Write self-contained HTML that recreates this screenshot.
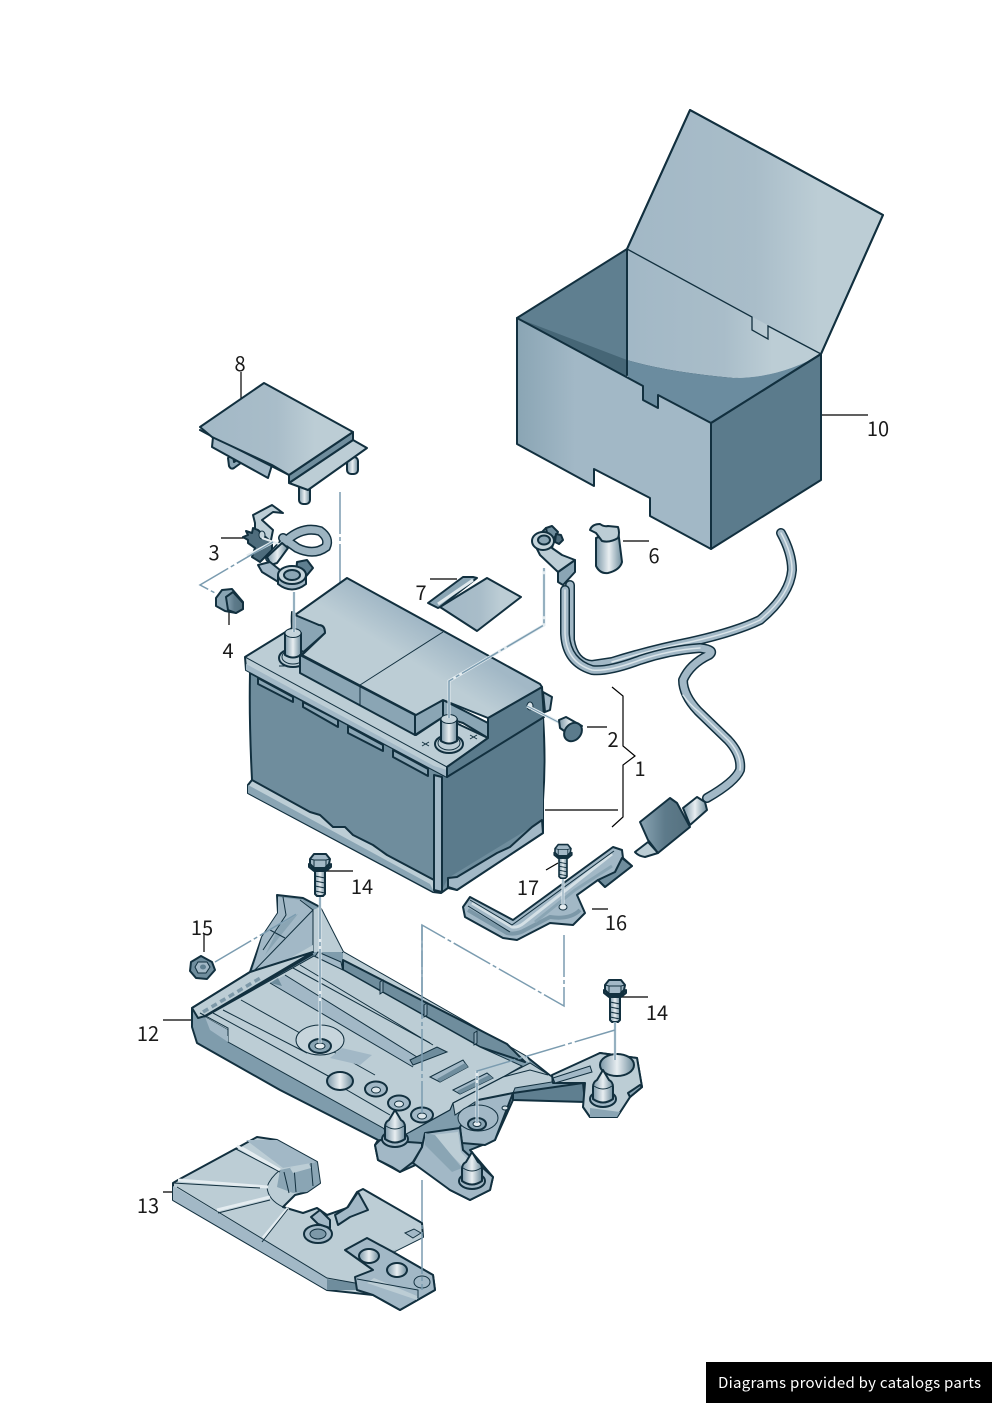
<!DOCTYPE html>
<html><head><meta charset="utf-8"><title>Diagram</title>
<style>
html,body{margin:0;padding:0;background:#fff}
svg{display:block}
text{font-family:"Noto Sans CJK JP","Liberation Sans",sans-serif;font-size:20px;fill:#1a1a1a;text-anchor:middle}
.o{stroke:#12303f;stroke-width:2;stroke-linejoin:round;stroke-linecap:round}
.t{stroke:#12303f;stroke-width:1;fill:none}
.l{stroke:#000;stroke-width:1.2;fill:none}
.d{stroke:#7b9cb0;stroke-width:1.5;fill:none;stroke-dasharray:42 3 4 3}
.h{stroke:#e4ecf0;stroke-width:3;fill:none}
.a{fill:#bccdd5}.b{fill:#a2b8c6}.c{fill:#6f8d9d}.e{fill:#5b7b8c}.f{fill:#8aa5b4}
</style></head><body>
<svg width="992" height="1403" viewBox="0 0 992 1403" xmlns="http://www.w3.org/2000/svg">
<defs>
<linearGradient id="g1" x1="0" x2="1" y1="0" y2="0"><stop offset="0" stop-color="#8aa5b4"/><stop offset=".3" stop-color="#a2b8c6"/><stop offset="1" stop-color="#a2b8c6"/></linearGradient>
<linearGradient id="g2" x1="0" x2="1" y1="0" y2="0"><stop offset="0" stop-color="#a2b8c6"/><stop offset=".5" stop-color="#a9bdc9"/><stop offset=".75" stop-color="#bccdd5"/><stop offset="1" stop-color="#bccdd5"/></linearGradient>
<linearGradient id="g3" x1="0" x2="1" y1="0" y2="0"><stop offset="0" stop-color="#7c98a8"/><stop offset=".5" stop-color="#e8eef1"/><stop offset="1" stop-color="#6f8d9d"/></linearGradient>
<linearGradient id="g4" x1="0" x2="1" y1="0" y2="0"><stop offset="0" stop-color="#8aa5b4"/><stop offset=".5" stop-color="#5d7a8a"/><stop offset="1" stop-color="#55717f"/></linearGradient>
<linearGradient id="g5" gradientUnits="userSpaceOnUse" x1="425" y1="625" x2="385" y2="690"><stop offset="0" stop-color="#a2b8c6"/><stop offset=".5" stop-color="#bccdd5"/><stop offset="1" stop-color="#bccdd5"/></linearGradient>
<g id="bolt"><path class="o" d="M-5 8h10v24l-2 2h-6l-2-2z" fill="url(#g3)"/><path class="t" d="M-5 14l10 2M-5 19l10 2M-5 24l10 2M-5 29l10 2"/><path class="o" d="M-11 2v3l5 4h12l5-4v-3l-5 5h-12z" fill="#6f8d9d"/><path class="o" d="M-10 -3l4-5h12l4 5-1 5-4 4h-11l-4-4z" fill="#a2b8c6"/><path class="t" d="M-6 -2h12M-6 -2l-4-1M6 -2l4-1M-6 -2v7M6 -2v7"/></g>
<g id="post"><ellipse class="o" cx="0" cy="15" rx="14" ry="9" fill="#bccdd5"/><ellipse class="t" cx="0" cy="14" rx="11" ry="7"/><path class="o" d="M-8 -10v22q8 5 16 0v-22z" fill="url(#g3)"/><ellipse cx="0" cy="-10" rx="8" ry="4.500" fill="#c5d4db" stroke="#12303f"/></g>
<g id="peg"><ellipse class="o" cx="0" cy="9" rx="13" ry="8" fill="#a2b8c6"/><path class="o" d="M-10 9v-12q0-5 4-7l6-10 6 10q4 2 4 7v12q-10 7-20 0z" fill="url(#g3)"/><path class="t" d="M-9 -4q9 6 18 0"/></g>
<g id="hole"><ellipse class="o" cx="0" cy="0" rx="11" ry="7.500" fill="#a2b8c6"/><ellipse cx="0" cy="1" rx="4.500" ry="3" fill="#dbe5ea" stroke="#12303f"/></g>
</defs>

<!-- 10 box -->
<path class="o" fill="url(#g2)" d="M627 249L690 110 883 215 821 354 733 378Q667 372 627 360z"/>
<path d="M627 249L821 354Q780 378 733 378 667 372 627 360z" fill="url(#g2)"/>
<path fill="#5f7f90" d="M517 318L627 249V375z"/>
<path fill="#466676" d="M517 318L627 360V377z"/>
<path fill="#6b8c9f" d="M627 360Q667 372 733 378 780 378 821 354L711 423 660 412 643 403 627 375z"/>
<path class="o" fill="url(#g1)" d="M517 318L643 386V400L658 408V395L711 423V549L650 516V498L594 469V486L517 444z"/>
<path class="o e" d="M711 423L821 354V480L711 549z"/>
<path class="o" fill="none" d="M517 318L627 249V375M627 249L690 110 883 215 821 354 711 423"/>
<path class="t" style="stroke-width:1.300" d="M627 249L752 317V330L768 339V326L821 354"/>

<!-- leaders -->
<path class="l" d="M822 415H868M241 372V398M221 538H248M623 541H649M430 579H457M587 727H607M229 612V625"/>
<path class="l" d="M612 687L623 696V746L635 756 623 765V817L612 827M545 810H618"/>
<path class="l" d="M325 871H353M546 870L558 863M592 909H608M204 933V952M620 997H648M163 1020H192M163 1192H174"/>

<!-- 8 cover -->
<path class="o f" d="M228 458l1 8q2 4 5 2l11-8-4-3-7 5-1-8z"/>
<rect class="o" x="299" y="483" width="11" height="21" rx="4" fill="url(#g3)"/>
<rect class="o" x="347" y="457" width="11" height="17" rx="4" fill="url(#g3)"/>
<path class="o a" d="M289 483L353 440 367 448 308 490z"/>
<path class="o b" d="M200 430L213 437 212 447 268 478 272 465 289 475z"/>
<path class="o c" d="M289 475L353 432V440L289 483z"/>
<path class="o" fill="url(#g2)" d="M200 427L264 383 353 432 289 475 272 465 212 437z"/>

<!-- dash to battery -->
<path class="d" d="M340 492V605"/>

<!-- 7 -->
<path class="o" fill="url(#g2)" d="M440 607L487 578 521 597 477 631z"/>
<path class="o f" d="M428 603L463 577 473 577 477 578 440 607 438 608z"/>
<path d="M438 604L473 580" stroke="#dfe8ec" stroke-width="3"/>

<!-- 6 -->
<path class="o" fill="url(#g3)" d="M596 538V566q4 8 12 7 12-3 14-11L618 530z"/>
<path class="o a" d="M590 530q2-6 10-6 4 3 8 2l10 1q2 6 0 11-8 5-16 3l-6-8z"/>

<!-- battery -->
<path class="o c" d="M250 673Q249 720 252 780L248 785V793L433 892 441 893 448 888 457 890 543 833V800Q546 760 543 717L447 777z"/>
<path class="e" d="M443 777L543 715V820L448 878 443 888z"/>
<path class="o a" d="M252 780L310 812 320 815 333 827 345 827 353 835 373 845 387 855 434 880V892L248 793V785z"/>
<path class="f" d="M248 785L430 884 434 892 248 793z"/>
<path class="o b" d="M434 775L442 777V892L434 890z"/>
<path class="o b" d="M448 878L457 877 497 853 510 847 532 827 542 820 543 833 457 890 448 887z"/>
<path class="o f" d="M258 678L293 697V702L258 684zM303 702L338 720V727L303 707zM348 726L383 745V751L348 733zM393 750L428 769V776L393 757z"/>
<path class="o a" d="M245 657L292 628 320 640 416 735 443 717 488 738 447 767 447 777 246 670z"/>
<path class="b" d="M246 664L434 766 447 770V777L246 670z"/>
<path class="t" d="M245 657L447 767"/>
<path class="o b" d="M543 692L552 697 550 710 545 712z"/>
<path class="o f" d="M292 612Q290 640 300 655L325 633Q325 625 319 625z"/>
<use href="#post" x="293" y="643"/>
<path class="t" d="M279 666h8"/>
<path class="o f" d="M300 655V673L415 735V715z"/>
<path class="t" d="M360 685V705"/>
<path class="o f" d="M415 735V715L443 700V717z"/>
<path class="o f" d="M443 700L488 723V738L463 723 443 717z"/>
<path class="o e" d="M488 718L542 687 544 717 447 777 447 767 488 738z"/>
<path class="o" fill="url(#g5)" d="M295 615L347 578 540 684 542 687 488 718 443 700 416 715 302 655 325 633Q325 625 319 625z"/>
<path class="t" d="M360 685L443 632"/>
<use href="#post" x="449" y="729"/>
<path class="t" d="M422 742l7 4m0-4l-7 4M470 735l7 4m0-4l-7 4"/>
<ellipse cx="530" cy="706" rx="3" ry="4" fill="#d8e3e8" stroke="#12303f"/>

<!-- dashes battery -->
<path class="h" d="M449 718V681L544 625V568M294 632V592"/>
<path class="d" d="M449 718V681L544 625V568"/>
<path class="d" d="M294 632V592"/>
<path class="h" d="M527 706L560 723"/>
<path d="M527 706L560 723" stroke="#7b9cb0" stroke-width="1"/>

<!-- 2 -->
<path class="o" fill="url(#g3)" d="M559 720l7-3 16 9-8 12-14-10z"/>
<ellipse class="o" cx="573" cy="732" rx="8" ry="10" fill="#5b7b8c" transform="rotate(40 573 732)"/>

<!-- 3 -->
<path class="o a" d="M253 515L272 505 283 513 273 512 262 520 273 530 270 545 255 530 255 523z"/>
<path class="o" fill="#4e6c7c" d="M243 537L248 535 246 531 252 533 253 528 258 530 272 543 272 550 260 562 252 557 255 548 248 543 248 540z"/>
<ellipse cx="262" cy="535" rx="3" ry="4" fill="#c5d4db" stroke="#12303f"/>
<g fill="none" stroke-linecap="round"><path stroke="#12303f" stroke-width="10" d="M270 558L287 540Q303 526 320 531 330 538 326 547 314 556 297 548L283 538"/>
<path stroke="#9db4c1" stroke-width="7" d="M270 558L287 540Q303 526 320 531 330 538 326 547 314 556 297 548L283 538"/></g>
<path class="h" style="stroke-width:2" d="M262 538L285 546"/>
<path class="o" fill="url(#g3)" d="M267 557L282 543 288 548 277 563 271 565z"/>
<path class="o b" d="M258 565L270 562 290 578 280 583 262 572z"/>
<path class="o" fill="#5f7f90" d="M297 562L307 560 313 568 303 580 296 574z"/>
<path class="o b" d="M278 576V584Q292 595 306 584V576z"/>
<ellipse class="o" cx="292" cy="575" rx="14" ry="9" fill="#c5d4db"/>
<ellipse class="o" cx="292" cy="575" rx="8" ry="5" fill="#8aa5b4"/>

<!-- dash 3-4 -->
<path class="h" d="M273 542L247 556"/>
<path class="d" d="M273 542L200 585 217 594"/>

<!-- 4 -->
<path class="o f" d="M216 598L222 590 232 589 243 602 243 609 236 613 225 611 216 606z"/>
<path class="o" fill="url(#g4)" d="M226 597L233 592 243 603 243 609 236 613 228 610z"/>

<!-- cable -->
<g fill="none" stroke-linecap="round" stroke-linejoin="round">
<path stroke="#12303f" stroke-width="10" d="M781 533Q792 553 792 570 790 595 760 620 735 632 690 642 650 650 612 662L592 665Q574 664 570 640V585"/>
<path stroke="#a2b8c6" stroke-width="7" d="M781 533Q792 553 792 570 790 595 760 620 735 632 690 642 650 650 612 662L592 665Q574 664 570 640V585"/>
<path stroke="#dbe5ea" stroke-width="1.500" d="M781 533Q792 553 792 570 790 595 760 620 735 632 690 642 650 650 612 662"/>
<path stroke="#12303f" stroke-width="10" d="M565 590V633Q566 662 592 670 608 672 640 660 670 650 700 648 716 650 709 655 690 664 683 680 683 695 698 711L728 740Q742 755 740 770 735 782 707 798"/>
<path stroke="#a2b8c6" stroke-width="7" d="M565 590V633Q566 662 592 670 608 672 640 660 670 650 700 648 716 650 709 655 690 664 683 680 683 695 698 711L728 740Q742 755 740 770 735 782 707 798"/>
<path stroke="#dbe5ea" stroke-width="1.500" d="M565 590V633Q566 662 592 670 608 672 640 660 670 650 700 648M683 695Q690 705 698 711L728 740Q742 755 740 770"/>
</g>

<!-- clamp + -->
<path class="o f" d="M558 572L575 560V572L563 585 558 582z"/>
<path class="o a" d="M533 541L546 528 556 533 552 548 562 555 575 560 558 572 540 555z"/>
<path class="o c" d="M546 528L552 526 558 532 553 540 548 538z"/>
<path class="o" fill="#4e6c7c" d="M556 534l5 1 2 5-4 4-4-2z"/>
<ellipse class="o" cx="543" cy="541" rx="11" ry="9" fill="#c5d4db"/>
<ellipse class="o" cx="544" cy="540" rx="6" ry="4.500" fill="#8aa5b4"/>

<!-- cap end of cable -->
<path class="o" fill="url(#g3)" d="M683 808L697 797 705 802 707 810 690 825z"/>
<path class="o a" d="M635 852L648 842 658 853 645 857Q638 856 635 852z"/>
<path class="o" fill="url(#g4)" d="M640 822L670 798 677 803 690 827 658 853 648 840z"/>

<!-- 16 -->
<path class="o b" d="M463 907L470 897 513 920 613 847 622 850 623 858 632 866 605 887 598 880 577 895 585 913 573 925 550 923 517 940 503 938 465 917z"/>
<g fill="none" stroke-linejoin="round"><path stroke="#7c98a8" stroke-width="4" d="M468 910L507 933Q517 935 525 930L550 917Q570 920 580 910"/>
<path stroke="#d4e0e6" stroke-width="3" d="M472 903L512 927Q518 928 524 923L612 854"/>
<path stroke="#8aa5b4" stroke-width="3" d="M535 922L575 890 612 866"/></g>
<path class="t" d="M470 900L512 925 614 851M468 906L510 932"/>
<path class="o c" d="M622 858L632 866 605 887 598 880 615 872z"/>
<ellipse cx="563" cy="907" rx="4" ry="3" fill="#e4ecf0" stroke="#12303f"/>
<path class="h" d="M563 876V905"/>
<path stroke="#7b9cb0" fill="none" d="M563 876V905"/>
<path class="d" d="M564 935V1006L422 925V1113"/>

<use href="#bolt" x="563" y="851" transform="translate(563 851) scale(.8) translate(-563 -851)"/>
<use href="#bolt" x="320" y="862"/>
<use href="#bolt" x="615" y="988"/>

<!-- 15 nut -->
<path class="o c" d="M191 962L201 956 212 962 215 970 207 979 196 978 190 971z"/>
<path d="M198 962h9l3 5-4 6h-8l-3-6z" fill="#a2b8c6" stroke="#12303f"/><ellipse cx="203" cy="967" rx="3" ry="2.500" fill="#5f7f90"/>

<!-- tray silhouette -->
<path class="o" fill="#7f9cac" d="M192 1008L250 972 262 937 278 913 277 895 303 898 320 907 343 952 527 1057 552 1077 600 1053 637 1058 642 1087 630 1097 617 1117 590 1117 583 1107 585 1100 513 1100 495 1140 470 1150 493 1177 490 1190 470 1200 450 1190 420 1163 400 1172 378 1160 375 1145 378 1140 280 1090 197 1043 192 1027z"/>
<!-- tower -->
<path fill="#a2b8c6" d="M278 897L302 900 313 910 263 962 252 972 262 937 278 913z"/>
<path fill="#8aa5b4" d="M280 925L298 914 265 955z"/>
<path class="t" d="M283 897L286 915 263 950M300 900L313 910M270 930L285 938"/>
<path class="a" d="M313 910L320 907 343 952 313 952z"/>
<path class="b" stroke="#12303f" stroke-width="1" d="M313 910V952L254 985 250 975z"/>
<path class="a" d="M250 981L313 945V952L254 988z"/>
<!-- rim -->
<path class="o a" d="M192 1008L250 972 313 952 205 1016 198 1018z"/>
<path class="t" style="stroke-width:2" d="M206 1016L313 954"/>
<path stroke="#7c98a8" stroke-width="3.500" stroke-dasharray="6 4" fill="none" d="M203 1012L262 977"/>
<!-- back wall -->
<path class="a" d="M343 952L527 1057 530 1063 343 970z"/>
<path class="o c" d="M343 960L507 1044 525 1062 480 1047 343 970z"/>
<path class="b" stroke="#12303f" d="M318 952L341 962 343 972 314 958z"/>
<!-- floor -->
<path class="a" stroke="#12303f" stroke-width="1" d="M205 1017L314 956 343 970 480 1047 522 1066 503 1077 453 1103 450 1110 410 1132 395 1140 383 1128 228 1042 228 1030z"/>
<path class="b" d="M205 1017L228 1030 228 1042 210 1030z"/>
<path class="t" d="M200 1013L228 1028V1036M213 1013L330 1077M223 1010L307 1053M241 1000L375 1075M293 968L430 1043M340 1086L390 1115"/>
<path class="b" d="M285 975L417 1057 413 1067 270 983z"/>
<path class="c" d="M270 983L278 978 282 986z"/>
<path class="t" d="M285 975L417 1057M270 983L413 1067M300 965L433 1045"/>
<path class="c" stroke="#12303f" stroke-width="1" d="M413 1065L447 1052 437 1047 410 1060z"/>
<path class="b" stroke="#12303f" stroke-width="1" d="M430 1077L463 1060 468 1067 440 1082z"/>
<path class="b" stroke="#12303f" stroke-width="1" d="M453 1090L487 1073 493 1078 460 1094z"/>
<path class="c" d="M440 1082L468 1067 465 1063 437 1079zM460 1094L493 1078 489 1075 457 1091z"/>
<path class="f" stroke="#12303f" d="M380 982l3-2v12l-3 2zM424 1005l3-2v12l-3 2zM474 1033l3-2v12l-3 2z"/>
<!-- round boss -->
<ellipse fill="#c7d5dc" stroke="#12303f" cx="320" cy="1040" rx="24" ry="15"/>
<ellipse class="o f" cx="320" cy="1046" rx="11" ry="7"/>
<ellipse cx="320" cy="1046" rx="5" ry="3" fill="#e4ecf0" stroke="#12303f"/>
<path class="b" d="M342 1048L372 1055 360 1065 330 1058z"/>
<ellipse class="o" cx="340" cy="1081" rx="13" ry="9" fill="url(#g3)"/>
<use href="#hole" x="376" y="1089"/><use href="#hole" x="399" y="1103"/><use href="#hole" x="422" y="1115"/>
<!-- arm -->
<path class="o" fill="#5f7f90" d="M513 1093L583 1083 585 1102 513 1100z"/>
<path class="a" stroke="#12303f" d="M503 1077L530 1063 552 1077 552 1082 515 1088 513 1093 478 1100 455 1115 453 1103z"/>
<path class="t" d="M410 1132L450 1110 453 1103 503 1077 530 1070 548 1075"/>
<path class="o a" d="M552 1075L600 1053 637 1058 642 1087 630 1097 617 1117 590 1117 583 1107 585 1083 553 1083z"/>
<path class="b" stroke="#12303f" d="M553 1078L590 1066 592 1072 555 1083z"/>
<ellipse class="o" cx="617" cy="1065" rx="17" ry="11" fill="url(#g3)"/>
<path fill="#8aa5b4" d="M590 1108L620 1112 617 1117 590 1117z"/>
<use href="#peg" x="603" y="1090"/>
<path class="o f" d="M642 1087L630 1097 628 1093 640 1085z"/>
<!-- boss front -->
<path class="o b" d="M460 1127L478 1100 513 1093 495 1140 485 1145 462 1143z"/>
<ellipse fill="#a2b8c6" stroke="#12303f" cx="478" cy="1118" rx="20" ry="13"/>
<ellipse class="o f" cx="477" cy="1124" rx="9" ry="6"/><ellipse cx="477" cy="1124" rx="4" ry="2.500" fill="#e4ecf0" stroke="#12303f"/>
<ellipse cx="505" cy="1108" rx="3" ry="2" fill="#dbe5ea" stroke="#12303f"/>
<!-- front plate -->
<path class="o b" d="M425 1133L460 1128 463 1150 493 1177 490 1190 470 1200 450 1190 413 1163 422 1147z"/>
<path class="a" d="M432 1135L458 1132 461 1152 480 1172 466 1170z"/>
<path class="f" d="M425 1133L435 1135 462 1168 452 1172 425 1145z"/>
<use href="#peg" x="472" y="1172"/>
<!-- left peg base -->
<path class="o b" d="M375 1145L380 1140 422 1143 422 1147 413 1162 400 1172 392 1167 378 1160z"/>
<use href="#peg" x="395" y="1130"/>
<!-- dashes over tray -->
<path class="h" d="M320 897V1043M477 1071V1123M615 1022V1060"/>
<path class="d" d="M320 897V1043"/>
<path class="d" d="M215 962L298 913"/>
<path class="d" d="M615 1022V1060M615 1030L477 1071V1123"/>
<path class="d" d="M422 925V1113"/>

<!-- 13 -->
<path class="o a" d="M173 1183L178 1180 237 1148 257 1137 277 1140 317 1162 320 1183 307 1192 295 1195 283 1207 303 1213 317 1208 327 1215 347 1208 357 1192 363 1189 422 1223 423 1237 393 1252 433 1275 435 1290 400 1310 373 1295 327 1290 173 1200z"/>
<path class="b" d="M173 1186V1200L327 1290 327 1278z"/>
<path class="c" d="M327 1279L355 1283 357 1290 327 1290z"/>
<path class="t" d="M177 1187L327 1278 355 1283"/>
<path class="f" d="M280 1170L317 1162 320 1183 307 1192 293 1193 277 1187z"/>
<path class="t" d="M280 1170Q270 1178 267 1187 268 1200 283 1207M284 1172L289 1193M294 1167L296 1192M311 1163L313 1186"/>
<path class="a" d="M290 1168L308 1162 311 1168 293 1173z"/>
<path class="h" d="M178 1180L268 1187M217 1210L270 1197M263 1238L288 1208M237 1146L278 1170"/>
<path class="t" d="M173 1183L260 1188M218 1213L270 1200M262 1242L288 1209M236 1149L280 1172"/>
<path class="b" d="M246 1140L277 1140 317 1162 283 1168z"/>
<path class="h" d="M242 1148L280 1170"/>
<ellipse class="o" cx="318" cy="1234" rx="14" ry="9" fill="#a2b8c6"/><ellipse cx="318" cy="1234" rx="8" ry="5" fill="#7c98a8" stroke="#12303f"/>
<path class="o b" d="M311 1217L320 1210 330 1220 330 1228 318 1224z"/>
<path class="o b" d="M335 1215L348 1207 358 1192 368 1210 350 1217 338 1225z"/>
<path class="b" stroke="#12303f" d="M405 1233l9-4 7 4-8 5z"/>
<path class="a" d="M390 1253L422 1233 423 1237 393 1252z"/>
<path class="o b" d="M345 1250L367 1238 393 1252 433 1275 435 1290 400 1310 373 1295 357 1290 355 1277 373 1270 345 1250z"/>
<path class="a" d="M367 1283L374 1278 417 1296 417 1300z"/>
<path class="t" d="M357 1279L418 1290V1298"/>
<ellipse class="o" cx="369" cy="1256" rx="10" ry="7" fill="url(#g3)"/>
<ellipse class="o" cx="397" cy="1270" rx="10" ry="7" fill="url(#g3)"/>
<ellipse class="t" cx="422" cy="1282" rx="8" ry="6"/>
<path class="d" d="M422 1180V1290"/>

<!-- labels -->
<text x="240" y="371">8</text>
<text x="878" y="436">10</text>
<text x="214" y="560">3</text>
<text x="654" y="563">6</text>
<text x="421" y="600">7</text>
<text x="228" y="658">4</text>
<text x="613" y="747">2</text>
<text x="640" y="776">1</text>
<text x="362" y="894">14</text>
<text x="528" y="895">17</text>
<text x="616" y="930">16</text>
<text x="202" y="935">15</text>
<text x="657" y="1020">14</text>
<text x="148" y="1041">12</text>
<text x="148" y="1213">13</text>

<rect x="706" y="1362" width="286" height="41" fill="#000"/>
<text x="718" y="1388" style="font-size:15px;fill:#fff;text-anchor:start" textLength="263" lengthAdjust="spacing">Diagrams provided by catalogs parts</text>
</svg>
</body></html>
